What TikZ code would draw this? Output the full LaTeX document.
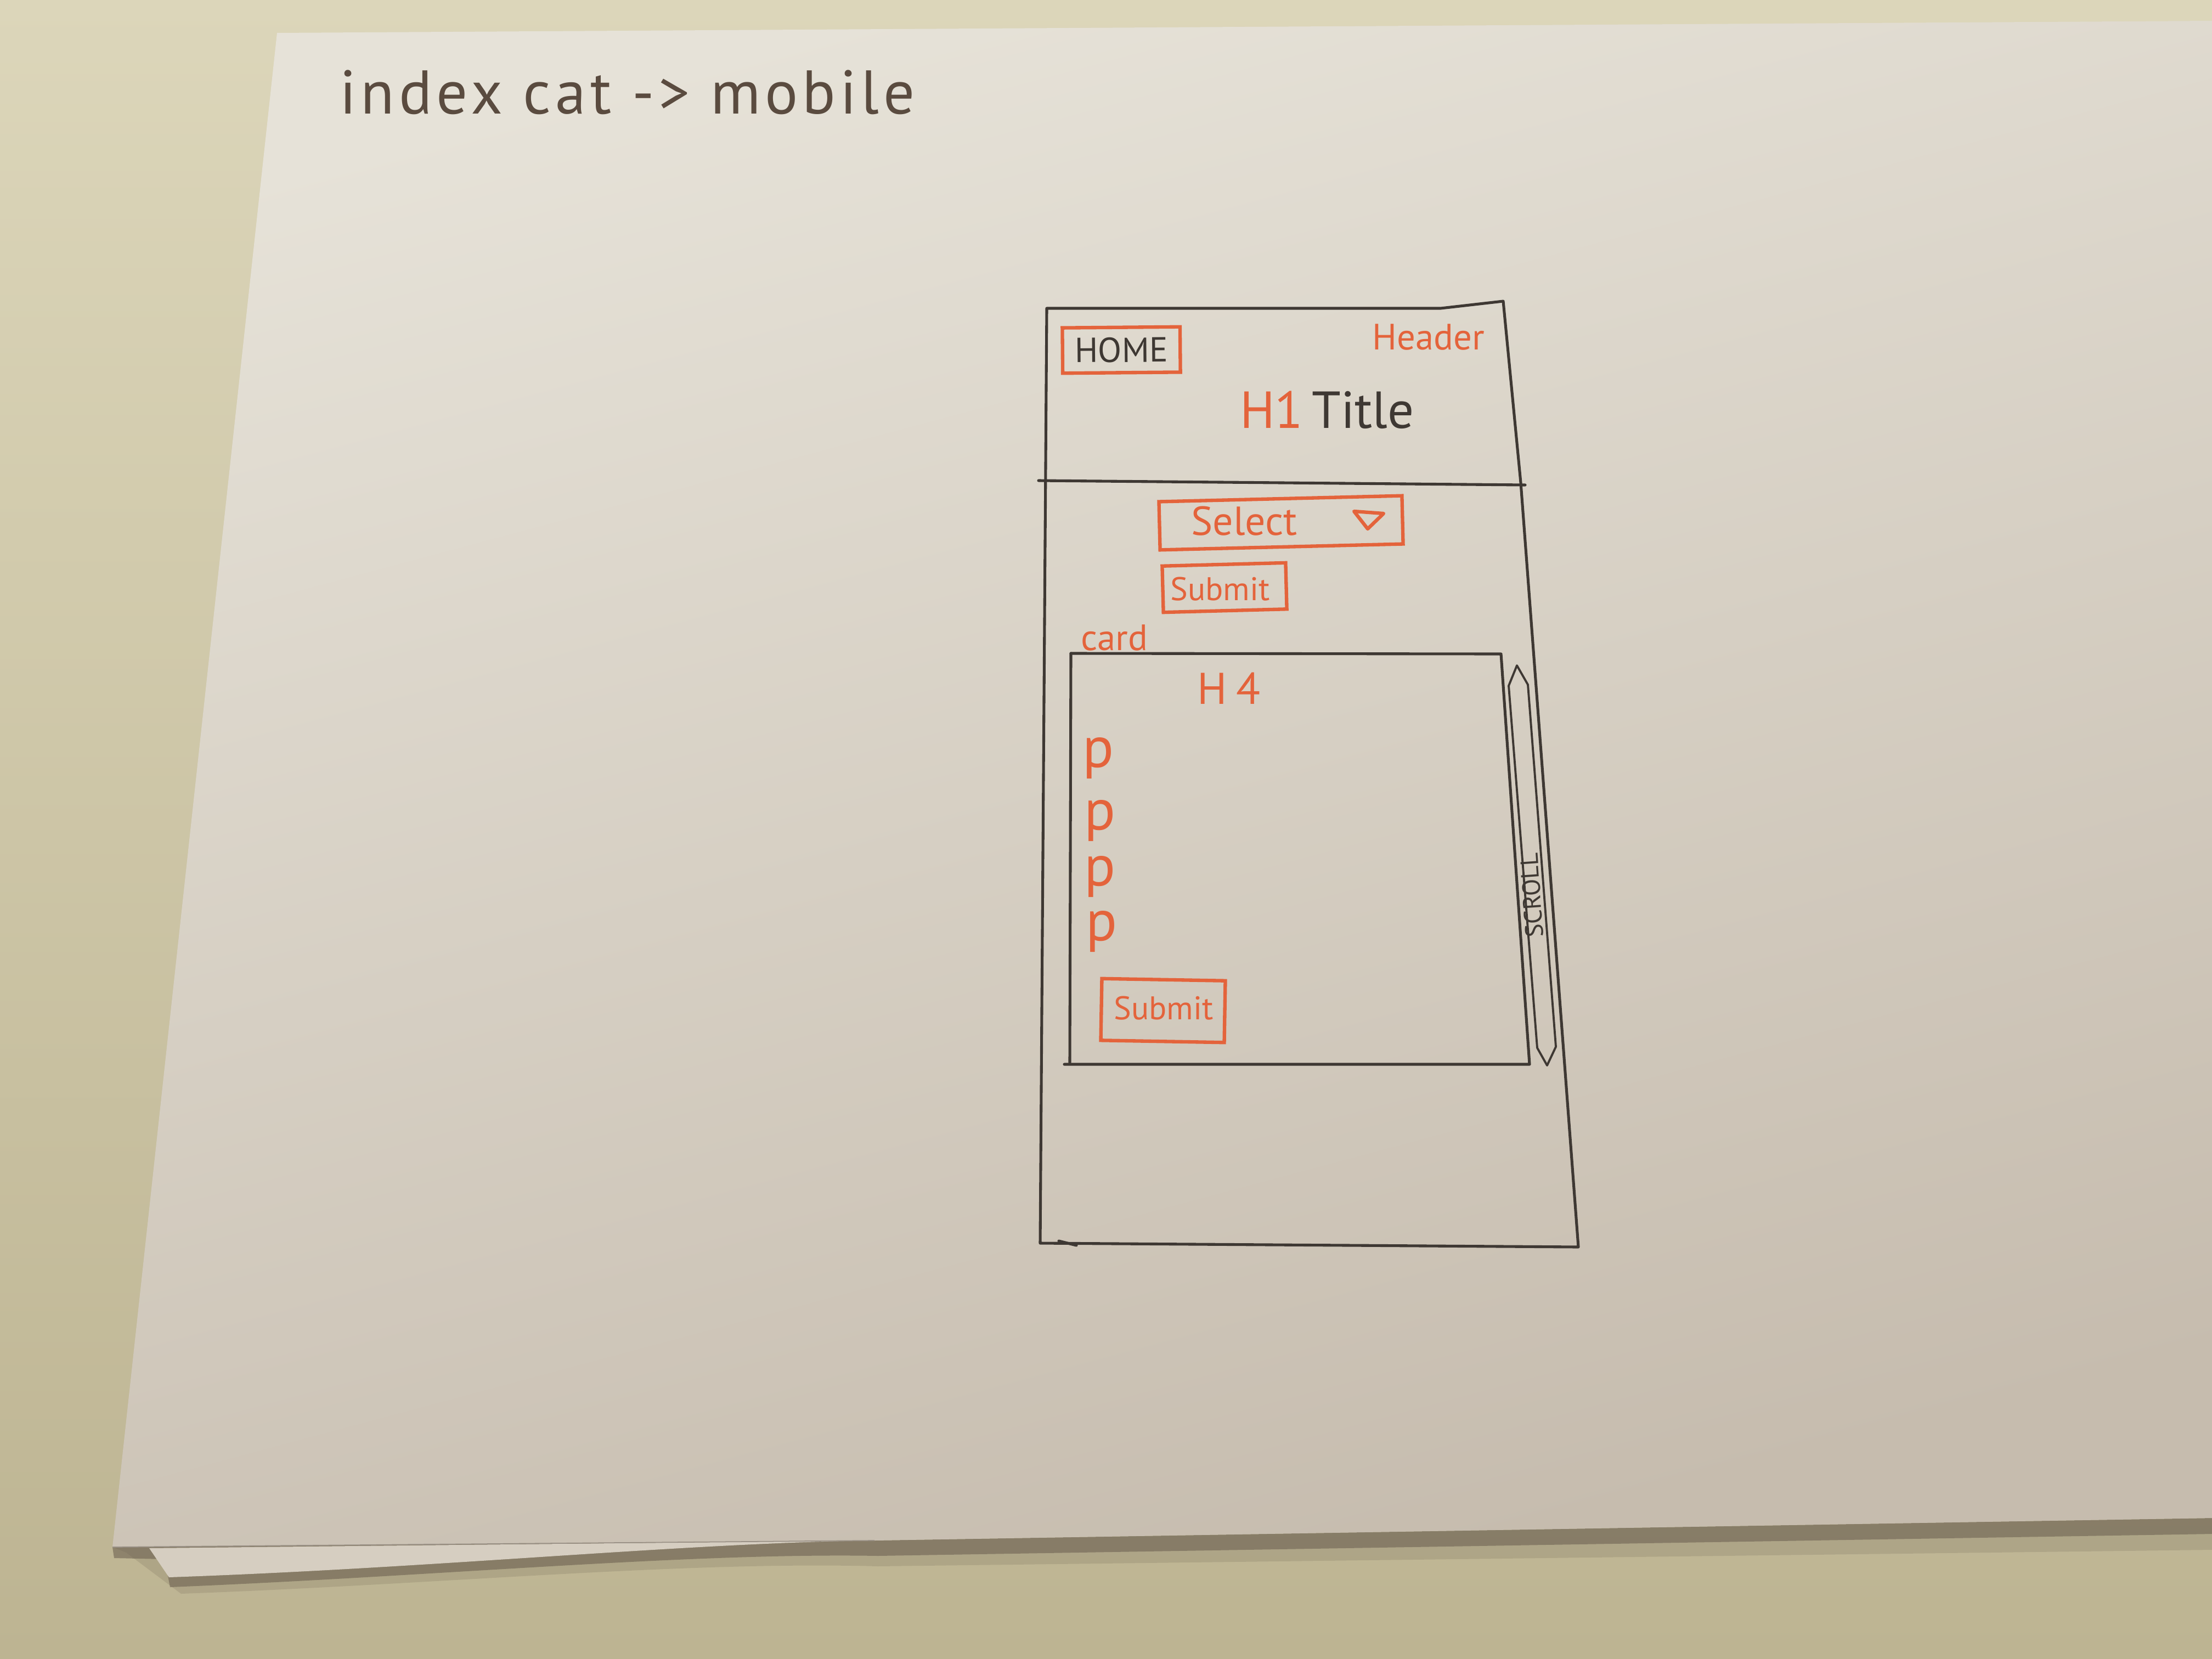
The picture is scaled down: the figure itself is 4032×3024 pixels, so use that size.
\documentclass[tikz,border=0pt]{standalone}
\usepackage{fontspec}
\setmainfont{PT Sans}
\usetikzlibrary{arrows.meta}

\definecolor{wallA}{HTML}{DCD6BA}
\definecolor{wallB}{HTML}{BDB492}
\definecolor{paperA}{HTML}{E6E2D8}
\definecolor{paperB}{HTML}{C6BCAE}
\definecolor{sheetlow}{HTML}{D6CEC1}
\definecolor{ink}{HTML}{3E3833}
\definecolor{inkbrown}{HTML}{5A4B3F}
\definecolor{pen}{HTML}{E4633B}
\definecolor{shadowc}{HTML}{6E6252}

\begin{document}
\begin{tikzpicture}[x=0.01cm,y=-0.01cm,
  inkline/.style={draw=ink, line width=1.45pt, line cap=round, line join=round},
  penline/.style={draw=pen, line width=1.8pt, line cap=round, line join=round},
  penbox/.style={draw=pen, line width=1.8pt, inner sep=0pt},
  pentext/.style={text=pen, inner sep=0pt},
  inktext/.style={text=ink, inner sep=0pt},
]
\useasboundingbox (0,0) rectangle (4032,3024);

% wall behind the sheets
\shade[top color=wallA, bottom color=wallB] (0,0) rectangle (4032,3024);

% shadows cast by the sheet edges
\fill[shadowc, opacity=0.2]
  (230,2830) -- (330,2905) .. controls (800,2888) and (1250,2845) .. (1600,2855)
  -- (4032,2825) -- (4032,2767) -- (1594,2808) -- (205,2820) -- cycle;
\fill[shadowc, opacity=0.6]
  (205,2820) -- (208,2840) -- (300,2842) -- (310,2893)
  .. controls (800,2873) and (1250,2830) .. (1600,2836)
  -- (4032,2796) -- (4032,2767) -- (1594,2808) -- cycle;

% lower sheet peeking out
\fill[sheetlow] (272,2822) -- (308,2875)
  .. controls (800,2858) and (1250,2812) .. (1594,2808) -- cycle;

% top sheet
\shade[top color=paperA, bottom color=paperB, shading angle=15]
  (505,60) -- (4032,38) -- (4032,2767) -- (1594,2808) -- (205,2820) -- cycle;
\draw[shadowc!70, line width=0.5pt] (205,2820) -- (1594,2808);

% page heading
\node[text=inkbrown, inner sep=0pt, anchor=base west,
      font=\fontsize{32}{36}\selectfont\addfontfeature{LetterSpace=7}] (heading) at (619,207)
  {index cat -> mobile};

% phone outline
\coordinate (pTL) at (1908,562);
\coordinate (pTM) at (2626,562);
\coordinate (pTR) at (2740,549);
\coordinate (pRD) at (2772,880);
\coordinate (pBR) at (2877,2273);
\coordinate (pBL) at (1896,2266);
\draw[inkline] (pTL) -- (pTM) -- (pTR) -- (pRD) -- (pBR) -- (pBL) -- cycle;
\draw[inkline] (1930,2262) -- (1962,2270);

% header divider
\coordinate (hdL) at (1893,876);
\coordinate (hdR) at (2780,884);
\draw[inkline] (hdL) -- (hdR);

% header contents
\node[penbox, text=ink, minimum width=61pt, minimum height=23.5pt,
      font=\fontsize{18}{20}\selectfont, rotate=0.5] (home) at (2044,638) {HOME};
\node[pentext, font=\fontsize{19}{22}\selectfont] (header) at (2604,615) {Header};
\node[inner sep=0pt, font=\fontsize{27}{30}\selectfont] (title) at (2419,747)
  {\textcolor{pen}{H1}\,\textcolor{ink}{Title}};

% select field
\node[penbox, minimum width=126pt, minimum height=25pt, rotate=1.4] (selbox) at (2335,953) {};
\node[pentext, font=\fontsize{21}{24}\selectfont] (seltext) at (2268,950) {Select};
\coordinate (triA) at (2468,932);
\coordinate (triB) at (2522,936);
\coordinate (triC) at (2493,964);
\draw[penline] (triA) -- (triB) -- (triC) -- cycle;

% submit button
\node[penbox, minimum width=64pt, minimum height=24pt, rotate=1.5] (subbox) at (2232,1071) {};
\node[pentext, font=\fontsize{17}{20}\selectfont] (subtext) at (2224,1074) {Submit};

% card
\node[pentext, font=\fontsize{19}{22}\selectfont] (cardlbl) at (2031,1163) {card};
\coordinate (cTL) at (1952,1191);
\coordinate (cTR) at (2736,1192);
\coordinate (cBR) at (2788,1940);
\coordinate (cBL) at (1950,1937);
\draw[inkline] (cTL) -- (cTR) -- (cBR) -- (1940,1940);
\draw[inkline] (cTL) -- (cBL);

\node[pentext, font=\fontsize{23}{26}\selectfont] (hfour) at (2240,1255) {H\hspace{5pt}4};
\node[pentext, font=\fontsize{30}{34}\selectfont] (pa) at (2002,1382) {p};
\node[pentext, font=\fontsize{30}{34}\selectfont] (pb) at (2005,1496) {p};
\node[pentext, font=\fontsize{30}{34}\selectfont] (pc) at (2005,1598) {p};
\node[pentext, font=\fontsize{30}{34}\selectfont] (pd) at (2008,1698) {p};

\node[penbox, minimum width=64pt, minimum height=32pt, rotate=-1] (cardsub) at (2120,1842) {};
\node[pentext, font=\fontsize{17}{20}\selectfont] (cardsubtext) at (2121,1838) {Submit};

% scroll indicator
\coordinate (sT) at (2765,1213);
\coordinate (sB) at (2820,1942);
\draw[inkline, line width=1.1pt] (sT) -- (2785,1248) -- (2836,1908) -- (sB)
  -- (2802,1910) -- (2750,1250) -- cycle;
\node[inktext, font=\fontsize{13}{15}\selectfont, rotate=94] (scroll) at (2792,1632) {SCROLL};
\end{tikzpicture}
\end{document}
